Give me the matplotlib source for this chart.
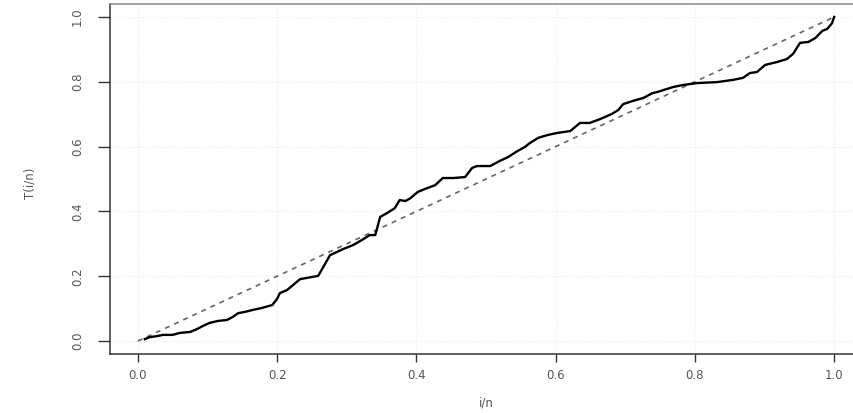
import numpy as np
import matplotlib.pyplot as plt

x_vals = [0.010, 0.017, 0.027, 0.036, 0.050, 0.060, 0.075, 0.085, 0.093, 0.103,
          0.115, 0.128, 0.136, 0.144, 0.154, 0.165, 0.178, 0.193, 0.200, 0.204,
          0.214, 0.223, 0.233, 0.251, 0.259, 0.276, 0.286, 0.295, 0.309, 0.322,
          0.333, 0.341, 0.348, 0.358, 0.369, 0.376, 0.384, 0.391, 0.402, 0.412,
          0.427, 0.438, 0.453, 0.470, 0.480, 0.487, 0.506, 0.520, 0.532, 0.545,
          0.556, 0.563, 0.575, 0.589, 0.602, 0.621, 0.635, 0.649, 0.664, 0.681,
          0.690, 0.697, 0.711, 0.726, 0.739, 0.747, 0.760, 0.769, 0.783, 0.803,
          0.832, 0.855, 0.869, 0.879, 0.889, 0.901, 0.918, 0.932, 0.941, 0.951,
          0.963, 0.973, 0.983, 0.990, 0.997, 1.000]
t_vals = [0.006, 0.012, 0.015, 0.019, 0.019, 0.025, 0.028, 0.037, 0.046, 0.056,
          0.062, 0.065, 0.074, 0.086, 0.090, 0.096, 0.102, 0.111, 0.130, 0.148,
          0.157, 0.173, 0.191, 0.198, 0.201, 0.265, 0.275, 0.284, 0.296, 0.312,
          0.327, 0.327, 0.383, 0.395, 0.410, 0.435, 0.432, 0.440, 0.460, 0.469,
          0.481, 0.503, 0.503, 0.506, 0.534, 0.540, 0.540, 0.556, 0.568, 0.586,
          0.599, 0.611, 0.627, 0.636, 0.642, 0.648, 0.673, 0.673, 0.685, 0.701,
          0.713, 0.731, 0.741, 0.750, 0.765, 0.769, 0.778, 0.784, 0.790, 0.796,
          0.799, 0.806, 0.812, 0.827, 0.830, 0.852, 0.861, 0.870, 0.886, 0.920,
          0.923, 0.935, 0.957, 0.963, 0.981, 1.000]

diag = [0.0, 1.0]
ticks = [0.0, 0.2, 0.4, 0.6, 0.8, 1.0]
tick_labels = ["0.0", "0.2", "0.4", "0.6", "0.8", "1.0"]

fig = plt.figure(figsize=(8.54, 4.13), dpi=100)
ax = fig.add_axes([110 / 854, 59 / 413, 752 / 854, 350 / 413])

for t in ticks:
    ax.axvline(t, color="#ebebeb", lw=0.8, ls=":", zorder=0)
    ax.axhline(t, color="#ebebeb", lw=0.8, ls=":", zorder=0)

ax.plot(diag, diag, color="#666666", lw=1.2, dashes=(3, 3))
ax.plot(x_vals, t_vals, color="black", lw=1.7)

ax.set_xlim(-0.04, 1.04)
ax.set_ylim(-0.04, 1.04)
ax.set_xticks(ticks)
ax.set_xticklabels(tick_labels)
ax.set_yticks(ticks)
ax.set_yticklabels(tick_labels, rotation=90, va="center")

ax.tick_params(axis="x", length=5.8, width=1.0, pad=5.0, labelsize=8.5,
               colors="#333333", labelcolor="#555555")
ax.tick_params(axis="y", length=8.6, width=1.0, pad=10.0, labelsize=8.5,
               colors="#333333", labelcolor="#555555")

for side in ["left", "bottom", "top", "right"]:
    ax.spines[side].set_linewidth(1.1)
    ax.spines[side].set_color("#333333")
ax.spines["top"].set_color("#888888")

fig.text(486 / 854, 1 - 403 / 413, "i/n", ha="center", va="center",
         fontsize=8.5, color="#555555")
fig.text(30 / 854, 1 - 183 / 413, "T(i/n)", ha="center", va="center",
         rotation=90, fontsize=8.5, color="#555555")

fig.savefig("out.png", dpi=100)
